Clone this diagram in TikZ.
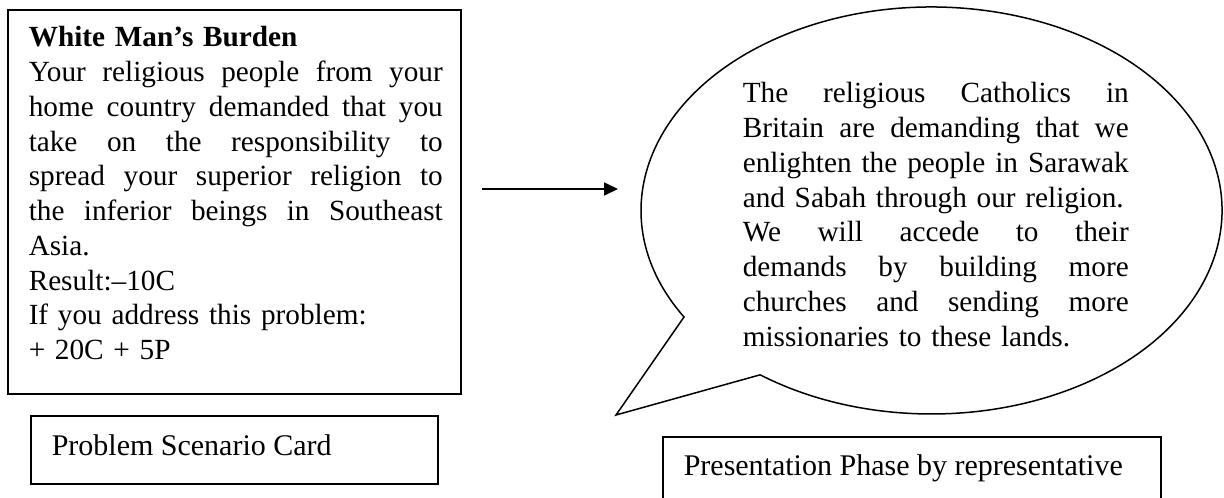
\documentclass[tikz,border=0pt]{standalone}
\usepackage{fontspec}
\setmainfont{Liberation Serif}
\usetikzlibrary{arrows.meta}
\newcommand{\cardline}[1]{\makebox[165.6pt][l]{#1}}
\newcommand{\speechline}[1]{\makebox[154.4pt][l]{#1}}
\newcommand{\gap}{\hfill}
\hyphenpenalty=10000
\begin{document}
\begin{tikzpicture}[x=0.4pt,y=-0.4pt, line width=0.6pt,
  box/.style={draw, inner sep=0pt},
  txt/.style={inner sep=0pt, anchor=base west, align=left, font=\fontsize{11.7}{13.9}\selectfont},
  lbl/.style={inner sep=0pt, anchor=base west, font=\fontsize{12}{13.9}\selectfont}]
\useasboundingbox (0,0) rectangle (1224,498);
\clip (0,0) rectangle (1224,498);
% problem card
\node[box, minimum width=181.2pt, minimum height=153.6pt] (card) at (234.5,202) {};
\node[txt, text width=175pt] (cardtext) at (28,47) {\textbf{White Man’s Burden}\\
\cardline{Your\gap religious\gap people\gap from\gap your}\\
\cardline{home\gap country\gap demanded\gap that\gap you}\\
\cardline{take\gap on\gap the\gap responsibility\gap to}\\
\cardline{spread\gap your\gap superior\gap religion\gap to}\\
\cardline{the\gap inferior\gap beings\gap in\gap Southeast}\\
Asia.\\
Result:–10C\\
If you address this problem:\\
+ 20C + 5P};
\node[box, minimum width=162.8pt, minimum height=27.2pt] (cardlabel) at (234.5,450) {};
\node[lbl] (cardlabeltext) at (51,455) {Problem Scenario Card};
% arrow
\coordinate (as) at (482,189);
\coordinate (ae) at (618,189);
\draw[-{Triangle[length=5.6pt,width=5.2pt]}] (as) -- (ae);
% speech bubble
\coordinate (tailL) at (684,317);
\coordinate (tailtip) at (616,415);
\draw (tailL) arc[start angle=211.56, end angle=-126.15, x radius=116.2pt, y radius=81.4pt] -- (tailtip) -- cycle;
\node[txt, text width=170pt] (speech) at (742,103) {\speechline{The\gap religious\gap Catholics\gap in}\\
\speechline{Britain\gap are\gap demanding\gap that\gap we}\\
\speechline{enlighten\gap the\gap people\gap in\gap Sarawak}\\
and Sabah through our religion.\\
\speechline{We\gap will\gap accede\gap to\gap their}\\
\speechline{demands\gap by\gap building\gap more}\\
\speechline{churches\gap and\gap sending\gap more}\\
missionaries to these lands.};
% presentation label
\node[box, minimum width=199.2pt, minimum height=32pt] (pres) at (912,477) {};
\node[lbl] (prestext) at (683,475) {Presentation Phase by representative};
\end{tikzpicture}
\end{document}
